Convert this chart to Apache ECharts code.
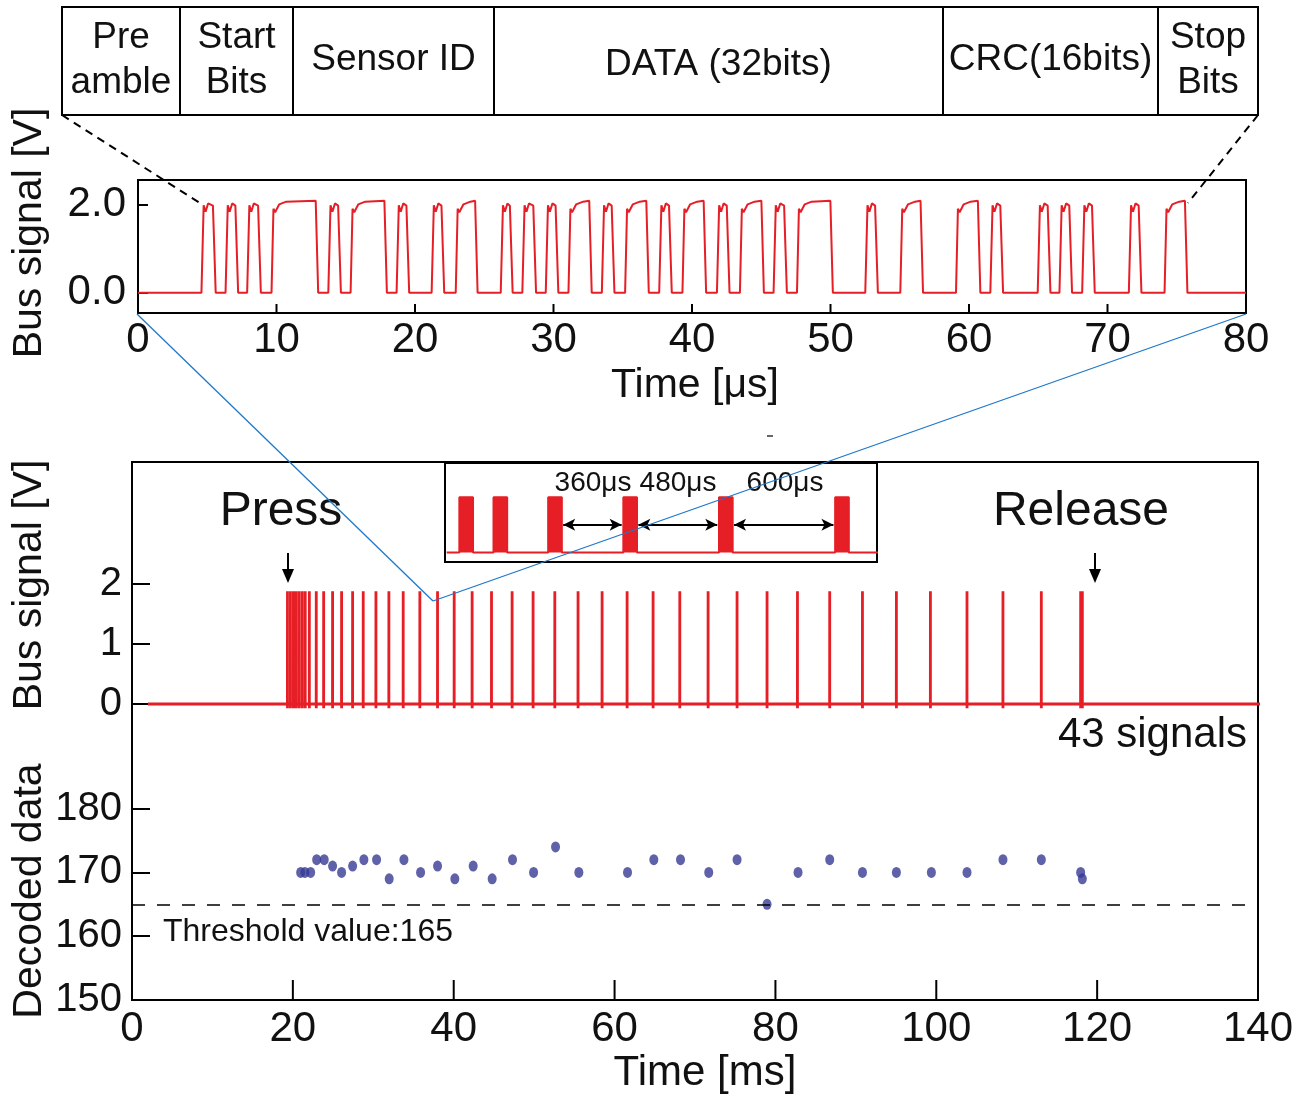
<!DOCTYPE html>
<html><head><meta charset="utf-8">
<script src="https://cdn.jsdelivr.net/npm/echarts@6/dist/echarts.min.js"></script>
<style>html,body{margin:0;padding:0;background:#fff}#c{width:1305px;height:1098px}</style>
</head><body><div id="c"></div>
<script>
const FONT = '"Liberation Sans", Arial, sans-serif';
const RED = '#e61e25';
const BLUE_DOT = '#373a94';

// ---- Frame structure (top table) ----
const frameFields = ['Pre\namble', 'Start\nBits', 'Sensor ID', 'DATA (32bits)', 'CRC(16bits)', 'Stop\nBits'];

// ---- Top waveform: pulse [rise, fall] times in µs ----
const framePulses = [
  [4.64, 5.53], [6.38, 7.15], [7.94, 8.79], [9.70, 12.93], [13.80, 14.57], [15.41, 17.89],
  [18.73, 19.50], [21.26, 22.03], [23.00, 24.44], [26.25, 26.97], [27.81, 28.66], [29.50, 30.27],
  [31.14, 32.68], [33.55, 34.32], [35.23, 36.80], [37.69, 38.46], [39.37, 40.94], [41.86, 42.63],
  [43.52, 45.11], [45.95, 46.77], [47.64, 50.09], [52.57, 53.34], [55.10, 56.60], [59.12, 60.74],
  [61.60, 62.38], [65.02, 65.80], [66.59, 67.36], [68.23, 69.00], [71.60, 72.37], [74.18, 75.69]
];
const topXTicks = [10, 20, 30, 40, 50, 60, 70];
const topYTicks = [0, 2];
const TOP_YMIN = -0.459, TOP_YMAX = 2.55;

// ---- Bottom: bus signal bursts (ms) ----
const spikeTimes = [
  19.33, 19.70, 20.07, 20.42, 20.79, 21.17, 21.54, 22.05, 22.91, 23.83, 24.94, 26.06, 27.43, 28.75,
  30.33, 31.94, 33.72, 35.79, 37.99, 40.06, 42.29, 44.70, 47.26, 49.87, 52.57, 55.46, 58.45, 61.56,
  64.79, 68.11, 71.63, 75.23, 78.96, 82.74, 86.75, 90.82, 95.04, 99.27, 103.82, 108.29, 113.06,
  117.95, 118.16
];
const spikeHigh = 1.88;
const busStart = 1.99, busEnd = 142.3;
const busTicks = [0, 1, 2];
const BUS_YMIN = -4.933, BUS_YMAX = 4.033;
const bottomXTicks = [20, 40, 60, 80, 100, 120];

// ---- Decoded data ----
const decodedTimes = [
  20.97, 21.50, 22.21, 22.96, 23.90, 24.94, 26.06, 27.43, 28.83, 30.41, 31.98, 33.81, 35.88, 37.99,
  40.14, 42.42, 44.78, 47.31, 49.93, 52.66, 55.56, 61.61, 64.88, 68.20, 71.71, 75.23, 78.96, 82.81,
  86.75, 90.82, 95.04, 99.39, 103.82, 108.29, 113.06, 117.95, 118.16
];
const decodedValues = [
  170, 170, 170, 172, 172, 171, 170, 171, 172, 172, 169, 172, 170, 171,
  169, 171, 169, 172, 170, 174, 170, 170, 172, 172, 170, 172, 165, 170,
  172, 170, 170, 170, 170, 172, 172, 170, 169
];
const decodedTicks = [150, 160, 170, 180];
const threshold = 165;

// ---- Inset: packet start times (µs) and length ----
const insetBurstStarts = [0, 200, 520, 960, 1520, 2200];
const insetBurstWidth = 80;
const insetGapLabels = ['360μs', '480μs', '600μs'];

// ---------- build series data ----------
function pulsePoints(r, f) {
  const w = f - r;
  if (w < 1) {
    return [[r - 0.06, 0], [r + 0.1, 1.98], [r + 0.24, 1.83], [r + 0.42, 2.02], [f - 0.12, 1.97], [f + 0.08, 0]];
  }
  return [[r - 0.06, 0], [r + 0.08, 1.9], [r + 0.2, 1.82], [r + 0.5, 2.0], [r + 1.0, 2.06], [f - 0.1, 2.08], [f + 0.08, 0]];
}
const topData = [[0, 0]];
framePulses.forEach(p => pulsePoints(p[0], p[1]).forEach(pt => topData.push(pt)));
topData.push([80, 0]);

const busData = [[busStart, 0]];
spikeTimes.forEach(t => { busData.push([t - 0.01, 0], [t, spikeHigh], [t, -0.07], [t + 0.01, 0]); });
busData.push([busEnd, 0]);

const decodedData = decodedTimes.map((t, i) => [t, decodedValues[i]]);

const insetData = [[-74, 0]];
insetBurstStarts.forEach(s => { insetData.push([s, 0], [s, 2], [s + insetBurstWidth, 2], [s + insetBurstWidth, 0]); });
insetData.push([2451, 0]);
const insetArrows = [];
for (let i = 2; i < insetBurstStarts.length - 1; i++) {
  insetArrows.push([{ coord: [insetBurstStarts[i] + insetBurstWidth + 8, 1] }, { coord: [insetBurstStarts[i + 1] - 10, 1] }]);
}

// ---------- graphics ----------
const tableX = [62, 180, 293, 494, 943, 1158, 1258];
const g = [];
g.push({ type: 'rect', shape: { x: 62, y: 7, width: 1196, height: 108 }, style: { fill: '#fff', stroke: '#000', lineWidth: 2 } });
for (let i = 1; i < tableX.length - 1; i++) {
  g.push({ type: 'line', shape: { x1: tableX[i], y1: 7, x2: tableX[i], y2: 115 }, style: { stroke: '#000', lineWidth: 2 } });
}
frameFields.forEach((txt, i) => {
  g.push({ type: 'text', x: (tableX[i] + tableX[i + 1]) / 2, y: i === 3 ? 65 : 60,
    style: { text: txt, fontSize: 37, fontFamily: FONT, fill: '#111', textAlign: 'center', textVerticalAlign: 'middle', lineHeight: 45 } });
});
g.push({ type: 'line', shape: { x1: 62, y1: 115, x2: 203, y2: 205 }, style: { stroke: '#000', lineWidth: 2, lineDash: [8, 6] } });
g.push({ type: 'line', shape: { x1: 1258, y1: 115, x2: 1188, y2: 203 }, style: { stroke: '#000', lineWidth: 2, lineDash: [8, 6] } });
g.push({ type: 'line', z: 100, shape: { x1: 137, y1: 314, x2: 433, y2: 601 }, style: { stroke: '#1f78c8', lineWidth: 1.3 } });
g.push({ type: 'line', z: 100, shape: { x1: 1246, y1: 314, x2: 433, y2: 601 }, style: { stroke: '#1f78c8', lineWidth: 1.3 } });
[['Bus signal [V]', 233], ['Bus signal [V]', 585], ['Decoded data', 891]].forEach(a => {
  g.push({ type: 'text', x: 30, y: a[1], rotation: Math.PI / 2,
    style: { text: a[0], fontSize: 41, fontFamily: FONT, fill: '#111', textAlign: 'center', textVerticalAlign: 'middle' } });
});
[['Press', 281, 288], ['Release', 1081, 1095]].forEach(a => {
  g.push({ type: 'text', x: a[1], y: 512, style: { text: a[0], fontSize: 48, fontFamily: FONT, fill: '#111', textAlign: 'center', textVerticalAlign: 'middle' } });
  g.push({ type: 'line', shape: { x1: a[2], y1: 553, x2: a[2], y2: 572 }, style: { stroke: '#000', lineWidth: 2 } });
  g.push({ type: 'polygon', shape: { points: [[a[2] - 6, 569], [a[2] + 6, 569], [a[2], 583]] }, style: { fill: '#000' } });
});
g.push({ type: 'text', x: 1247, y: 735, style: { text: '43 signals', fontSize: 42, fontFamily: FONT, fill: '#111', textAlign: 'right', textVerticalAlign: 'middle' } });
g.push({ type: 'text', x: 163, y: 932, style: { text: 'Threshold value:' + threshold, fontSize: 32, fontFamily: FONT, fill: '#111', textAlign: 'left', textVerticalAlign: 'middle' } });
[[593, 0], [678, 1], [785, 2]].forEach(a => {
  g.push({ type: 'text', x: a[0], y: 483, z: 50, style: { text: insetGapLabels[a[1]], fontSize: 28, fontFamily: FONT, fill: '#111', textAlign: 'center', textVerticalAlign: 'middle' } });
});
g.push({ type: 'line', shape: { x1: 767, y1: 436, x2: 773, y2: 436 }, style: { stroke: '#333', lineWidth: 1.5 } });

const xLine = () => ({ show: true, onZero: false, lineStyle: { color: '#000', width: 2 } });
const yLine = () => ({ show: true, lineStyle: { color: '#000', width: 2 } });
const tick = (len, vals) => {
  const t = { show: true, inside: true, length: len, lineStyle: { color: '#000', width: 2 } };
  if (vals) t.customValues = vals;
  return t;
};
const labelStyle = (fs) => ({ fontSize: fs, fontFamily: FONT, color: '#111' });

const option = {
  animation: false,
  backgroundColor: '#fff',
  grid: [
    { left: 138, top: 180, width: 1108, height: 133, show: true, borderColor: '#000', borderWidth: 2 },
    { left: 132, top: 462, width: 1126, height: 538, show: true, borderColor: '#000', borderWidth: 2 },
    { left: 445, top: 463, width: 432, height: 99, show: true, borderColor: '#000', borderWidth: 2, backgroundColor: '#fff', z: 5 }
  ],
  xAxis: [
    { gridIndex: 0, type: 'value', min: 0, max: 80, interval: 10, axisLine: xLine(), axisTick: { show: false },
      axisLabel: Object.assign({ margin: 6 }, labelStyle(42)), splitLine: { show: false },
      name: 'Time [μs]', nameLocation: 'middle', nameGap: 52, nameTextStyle: Object.assign({ padding: [0, 0, 0, 6] }, labelStyle(41)) },
    { gridIndex: 1, type: 'value', min: 0, max: 140, interval: 20, axisLine: xLine(), axisTick: { show: false },
      axisLabel: Object.assign({ margin: 8 }, labelStyle(42)), splitLine: { show: false },
      name: 'Time [ms]', nameLocation: 'middle', nameGap: 52, nameTextStyle: Object.assign({ padding: [0, 0, 0, 20] }, labelStyle(42)) },
    { gridIndex: 2, type: 'value', min: -84, max: 2445, show: false }
  ],
  yAxis: [
    { gridIndex: 0, type: 'value', min: TOP_YMIN, max: TOP_YMAX, position: 'left', axisLine: yLine(), splitLine: { show: false },
      axisTick: tick(10, topYTicks),
      axisLabel: Object.assign({ margin: 12, customValues: topYTicks, formatter: v => Number(v).toFixed(1), padding: [0, 0, 12, 0] }, labelStyle(42)) },
    { gridIndex: 1, type: 'value', min: BUS_YMIN, max: BUS_YMAX, position: 'left', axisLine: yLine(), splitLine: { show: false },
      axisTick: tick(18, busTicks),
      axisLabel: Object.assign({ margin: 10, customValues: busTicks }, labelStyle(40)) },
    { gridIndex: 1, type: 'value', min: 150, max: 234.37, position: 'left', axisLine: yLine(), splitLine: { show: false },
      axisTick: tick(18, decodedTicks),
      axisLabel: Object.assign({ margin: 10, customValues: decodedTicks }, labelStyle(40)) },
    { gridIndex: 2, type: 'value', min: -0.342, max: 3.236, show: false }
  ],
  graphic: { elements: g },
  series: [
    { type: 'line', xAxisIndex: 0, yAxisIndex: 0, data: topData, showSymbol: false, symbol: 'none',
      lineStyle: { color: RED, width: 2 }, silent: true },
    { type: 'line', xAxisIndex: 1, yAxisIndex: 1, data: busData, showSymbol: false, symbol: 'none', clip: false,
      lineStyle: { color: RED, width: 2.8 }, silent: true },
    { type: 'scatter', xAxisIndex: 1, yAxisIndex: 2, data: decodedData, symbol: 'circle', symbolSize: [9, 11],
      itemStyle: { color: BLUE_DOT }, z: 4,
      markLine: { silent: true, symbol: ['none', 'none'], label: { show: false },
        lineStyle: { color: '#000', width: 1.5, type: [13, 12] }, data: [{ yAxis: threshold }] } },
    { type: 'line', xAxisIndex: 2, yAxisIndex: 3, data: insetData, showSymbol: false, symbol: 'none', clip: false, z: 6,
      lineStyle: { color: RED, width: 2 }, areaStyle: { color: RED, opacity: 1 }, silent: true,
      markLine: { silent: true, symbol: ['arrow', 'arrow'], symbolSize: [9, 12], label: { show: false },
        lineStyle: { color: '#000', width: 2, type: 'solid' }, data: insetArrows } }
  ]
};
const chart = echarts.init(document.getElementById('c'), null, { renderer: 'canvas' });
chart.setOption(option);

// inward x-axis tick marks placed through the axes' own scales
const tickLines = [];
const addTicks = (xi, yi, yMin, vals, len) => {
  const yPix = chart.convertToPixel({ yAxisIndex: yi }, yMin);
  vals.forEach(v => {
    const xPix = chart.convertToPixel({ xAxisIndex: xi }, v);
    if (isFinite(xPix) && isFinite(yPix)) {
      tickLines.push({ type: 'line', z: 120, shape: { x1: xPix, y1: yPix, x2: xPix, y2: yPix - len }, style: { stroke: '#000', lineWidth: 2 } });
    }
  });
};
addTicks(0, 0, TOP_YMIN, topXTicks, 9);
addTicks(1, 2, 150, bottomXTicks, 20);
chart.setOption({ graphic: { elements: g.concat(tickLines) } });
</script>
</body></html>
